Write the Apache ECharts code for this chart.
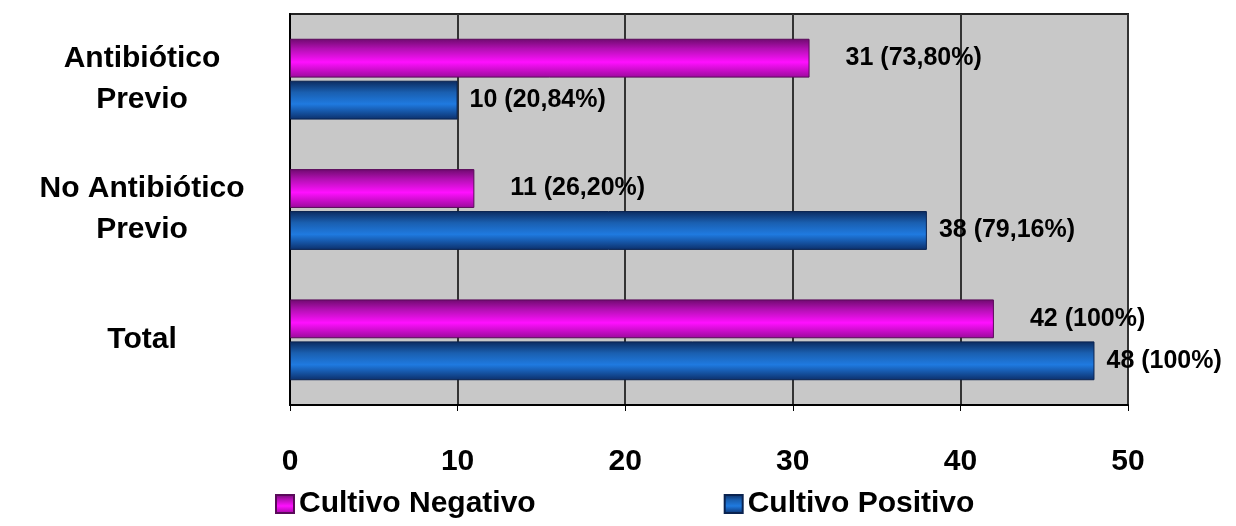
<!DOCTYPE html>
<html>
<head>
<meta charset="utf-8">
<script src="https://cdn.jsdelivr.net/npm/echarts@6/dist/echarts.min.js"></script>
<style>
    html, body { margin: 0; padding: 0; background: #ffffff; }
    #chart { width: 1236px; height: 526px; }
</style>
</head>
<body>
<div id="chart"></div>
<script>
// datos
var categorias = ['Antibiótico\nPrevio', 'No Antibiótico\nPrevio', 'Total'];
var negativo = [31, 11, 42];
var positivo = [10, 38, 48];
var negativoPct = ['73,80%', '26,20%', '100%'];
var positivoPct = ['20,84%', '79,16%', '100%'];
var ticksX = [0, 10, 20, 30, 40, 50];

var fuente = 'Liberation Sans, Arial, sans-serif';

var myChart = echarts.init(document.getElementById('chart'));

function etiqueta(pct) {
    return function (p) {
        return p.value + ' (' + pct[p.dataIndex] + ')';
    };
}

var gradMagenta = new echarts.graphic.LinearGradient(0, 0, 0, 1, [
    { offset: 0, color: '#6e0a6e' },
    { offset: 0.25, color: '#b010b0' },
    { offset: 0.6, color: '#ff10ff' },
    { offset: 1, color: '#9a0a9a' }
]);
var gradAzul = new echarts.graphic.LinearGradient(0, 0, 0, 1, [
    { offset: 0, color: '#0b2a5e' },
    { offset: 0.3, color: '#1a5fb0' },
    { offset: 0.6, color: '#1f7ae0' },
    { offset: 1, color: '#0c2f6a' }
]);

var option = {
    animation: false,
    backgroundColor: '#ffffff',
    grid: {
        left: 290,
        right: 108,
        top: 14,
        bottom: 121,
        show: true,
        backgroundColor: '#c8c8c8',
        borderColor: '#222',
        borderWidth: 2
    },
    legend: {
        bottom: 2,
        left: 270,
        itemGap: 188,
        itemWidth: 18,
        itemHeight: 18,
        icon: 'rect',
        textStyle: {
            color: '#000',
            fontFamily: fuente,
            fontWeight: 'bold',
            fontSize: 30
        },
        data: ['Cultivo Negativo', 'Cultivo Positivo']
    },
    xAxis: {
        type: 'value',
        min: ticksX[0],
        max: ticksX[ticksX.length - 1],
        interval: 10,
        axisLine: { show: true, lineStyle: { color: '#000', width: 2 } },
        axisTick: { show: true, length: 6, lineStyle: { color: '#000' } },
        splitLine: { show: true, lineStyle: { color: '#333', width: 2 } },
        axisLabel: {
            margin: 42,
            color: '#000',
            fontFamily: fuente,
            fontWeight: 'bold',
            fontSize: 30
        }
    },
    yAxis: {
        type: 'category',
        inverse: true,
        data: categorias,
        axisLine: { show: true, lineStyle: { color: '#000', width: 2 } },
        axisTick: { show: false },
        axisLabel: {
            align: 'center',
            margin: 148,
            lineHeight: 41,
            color: '#000',
            fontFamily: fuente,
            fontWeight: 'bold',
            fontSize: 30
        }
    },
    series: [
        {
            name: 'Cultivo Negativo',
            type: 'bar',
            data: negativo,
            barGap: '8%',
            barCategoryGap: '38%',
            itemStyle: { color: gradMagenta, borderColor: '#5a0a5a', borderWidth: 1 },
            label: {
                show: true,
                position: 'right',
                distance: 36,
                formatter: etiqueta(negativoPct),
                color: '#000',
                fontFamily: fuente,
                fontWeight: 'bold',
                fontSize: 25
            }
        },
        {
            name: 'Cultivo Positivo',
            type: 'bar',
            data: positivo,
            barGap: '8%',
            barCategoryGap: '38%',
            itemStyle: { color: gradAzul, borderColor: '#0a2350', borderWidth: 1 },
            label: {
                show: true,
                position: 'right',
                distance: 12,
                formatter: etiqueta(positivoPct),
                color: '#000',
                fontFamily: fuente,
                fontWeight: 'bold',
                fontSize: 25
            }
        }
    ]
};

myChart.setOption(option);
</script>
</body>
</html>
